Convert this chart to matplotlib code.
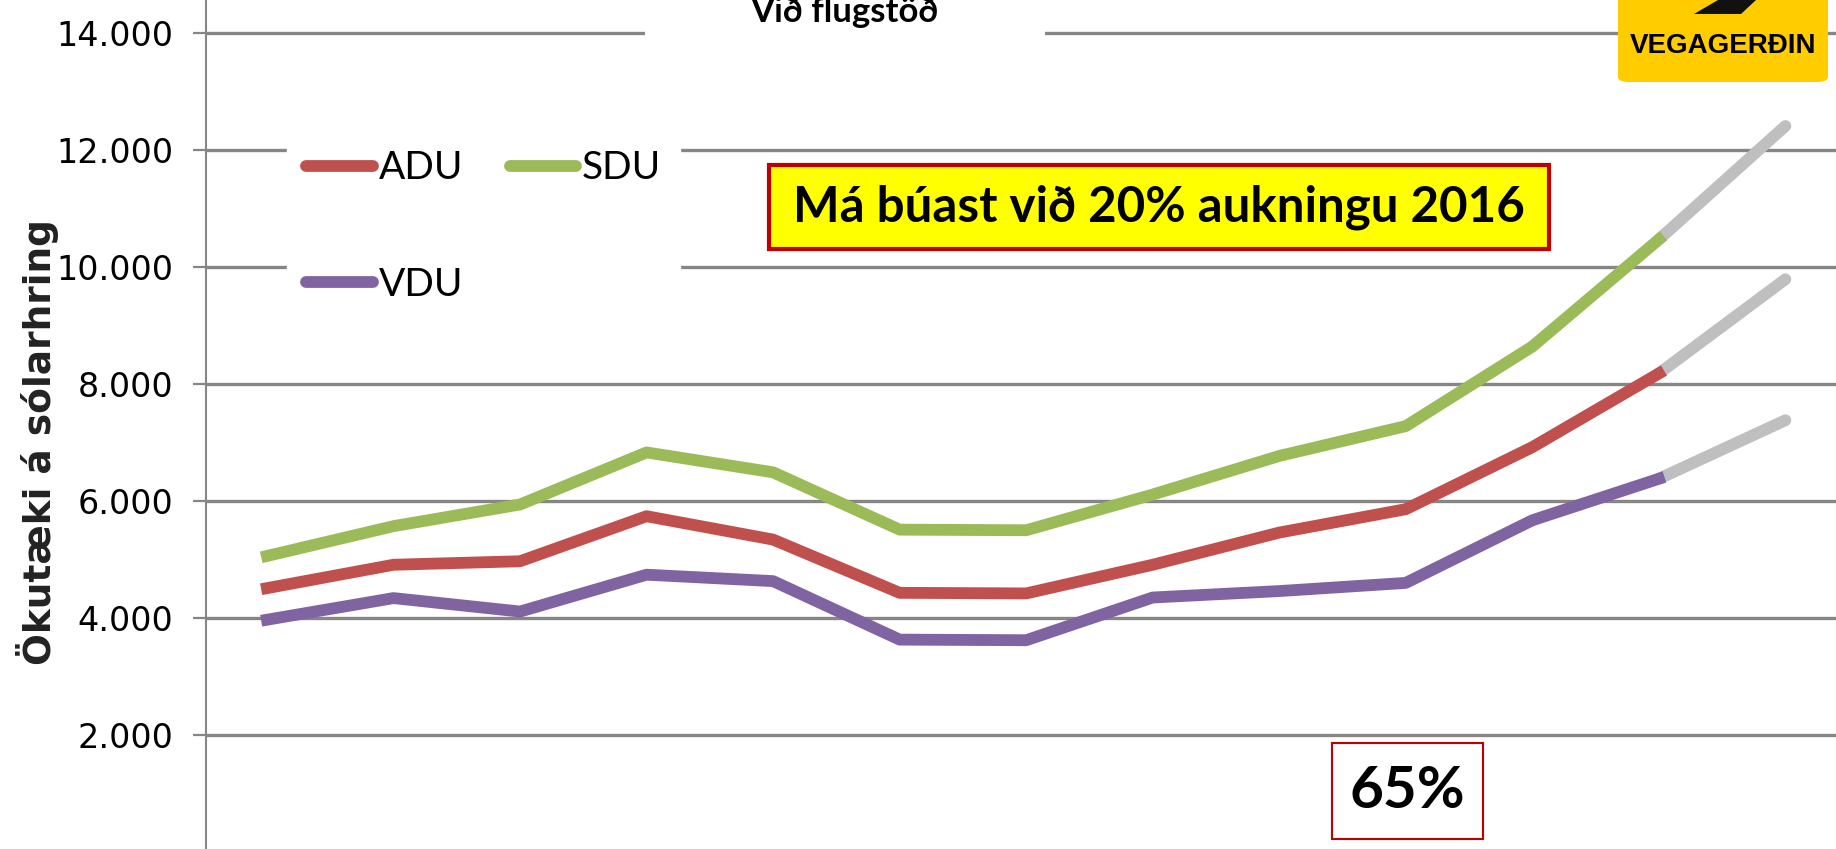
import matplotlib
matplotlib.use("Agg")
import matplotlib.pyplot as plt
from matplotlib import font_manager
from matplotlib.patches import Rectangle, Polygon, FancyBboxPatch
from matplotlib.ticker import FuncFormatter

# Umferð við flugstöð, ökutæki á sólarhring
years = [2004, 2005, 2006, 2007, 2008, 2009, 2010, 2011, 2012, 2013, 2014, 2015]
adu = [4510, 4910, 4970, 5740, 5340, 4430, 4420, 4910, 5460, 5860, 6920, 8180]
sdu = [5060, 5570, 5940, 6830, 6490, 5510, 5500, 6110, 6770, 7280, 8640, 10470]
vdu = [3970, 4340, 4110, 4740, 4630, 3630, 3620, 4350, 4460, 4600, 5670, 6380]

# spá fyrir 2016 (+20%)
proj_year = 2016
adu_2016 = 9790
sdu_2016 = 12410
vdu_2016 = 7380

W, H = 1836, 849
fig = plt.figure(figsize=(W / 100, H / 100), dpi=100)
ax = fig.add_axes([206 / W, 0, 1 - 206 / W, 1])


def fx(x):
    return x / W


def fy(y_top):
    return 1 - y_top / H


names = {f.name for f in font_manager.fontManager.ttflist}
narrow = 'Liberation Sans Narrow' if 'Liberation Sans Narrow' in names else 'Lato'

c_adu, c_sdu, c_vdu = '#C0504D', '#9BBB59', '#8064A2'
grey = '#BFBFBF'
lw = 8.5

xp = [years[-1], proj_year]
ax.plot(xp, [sdu[-1], sdu_2016], color=grey, lw=lw, solid_capstyle='round', zorder=3)
ax.plot(xp, [adu[-1], adu_2016], color=grey, lw=lw, solid_capstyle='round', zorder=3)
ax.plot(xp, [vdu[-1], vdu_2016], color=grey, lw=lw, solid_capstyle='round', zorder=3)
l_adu, = ax.plot(years, adu, color=c_adu, lw=lw, solid_joinstyle='round', zorder=4, label='ADU')
l_sdu, = ax.plot(years, sdu, color=c_sdu, lw=lw, solid_joinstyle='round', zorder=4, label='SDU')
l_vdu, = ax.plot(years, vdu, color=c_vdu, lw=lw, solid_joinstyle='round', zorder=4, label='VDU')

ax.set_xlim(years[0] - 0.482, years[0] + 12.40)
ax.set_ylim(51, 14564)
ax.set_yticks(range(2000, 14001, 2000))
ax.yaxis.set_major_formatter(FuncFormatter(lambda v, p: f'{int(v):,}'.replace(',', '.')))
ax.set_xticks([])
ax.tick_params(axis='y', direction='out', length=9.5, width=1.6, color='#868686',
               pad=14, labelsize=24)
ax.yaxis.grid(True, color='#868686', lw=2.4)
ax.set_axisbelow(True)
for s in ['top', 'right', 'bottom']:
    ax.spines[s].set_visible(False)
ax.spines['left'].set_color('#868686')
ax.spines['left'].set_linewidth(1.5)

fig.text(fx(38), fy(442), 'Ökutæki á sólarhring', rotation=90, ha='center', va='center',
         fontsize=27, fontweight='bold', color='#222222')

leg = ax.legend(handles=[l_adu, l_vdu, l_sdu], ncol=2, loc='upper left',
                bbox_to_anchor=(fx(287), fy(131)), bbox_transform=fig.transFigure,
                frameon=True, fancybox=False, framealpha=1, edgecolor='white',
                prop={'family': narrow, 'size': 28}, handlelength=1.7, handletextpad=0.15,
                columnspacing=1.2, labelspacing=2.07, borderpad=0.5, borderaxespad=0)
for h in leg.legend_handles:
    h.set_solid_capstyle('round')

# titill (skorinn að ofan)
fig.add_artist(Rectangle((fx(645), fy(48)), fx(400), 48 / H, facecolor='white',
                         edgecolor='none', zorder=5))
fig.text(fx(844), fy(22), 'Við flugstöð', ha='center', va='baseline', fontsize=25,
         fontweight='bold', family='Lato', zorder=6)

# athugasemd
fig.add_artist(Rectangle((fx(769), fy(249)), fx(780), 84 / H, facecolor='#FFFF00',
                         edgecolor='#C00000', lw=3, zorder=5))
fig.text(fx(1159), fy(207), 'Má búast við 20% aukningu 2016', ha='center', va='center',
         fontsize=35.5, fontweight='bold', family='Lato', zorder=6)

fig.add_artist(Rectangle((fx(1332), fy(839)), fx(151), 96 / H, facecolor='white',
                         edgecolor='#C00000', lw=1.5, zorder=5))
fig.text(fx(1407), fy(791), '65%', ha='center', va='center', fontsize=42,
         fontweight='bold', family='Lato', zorder=6)

# merki
fig.add_artist(FancyBboxPatch((fx(1618), fy(82)), fx(210), 100 / H,
                              boxstyle='round,pad=0,rounding_size=0.006',
                              facecolor='#FFCC00', edgecolor='none', zorder=5))
fig.add_artist(Polygon([(fx(1718), fy(0)), (fx(1756), fy(0)), (fx(1741), fy(14)),
                        (fx(1694), fy(14))], closed=True, facecolor='#111111',
                       edgecolor='none', zorder=6))
fig.text(fx(1723), fy(46), 'VEGAGERÐIN', ha='center', va='center', fontsize=20,
         fontweight='bold', family='Liberation Sans', zorder=6)

fig.savefig('out.png', dpi=100)
